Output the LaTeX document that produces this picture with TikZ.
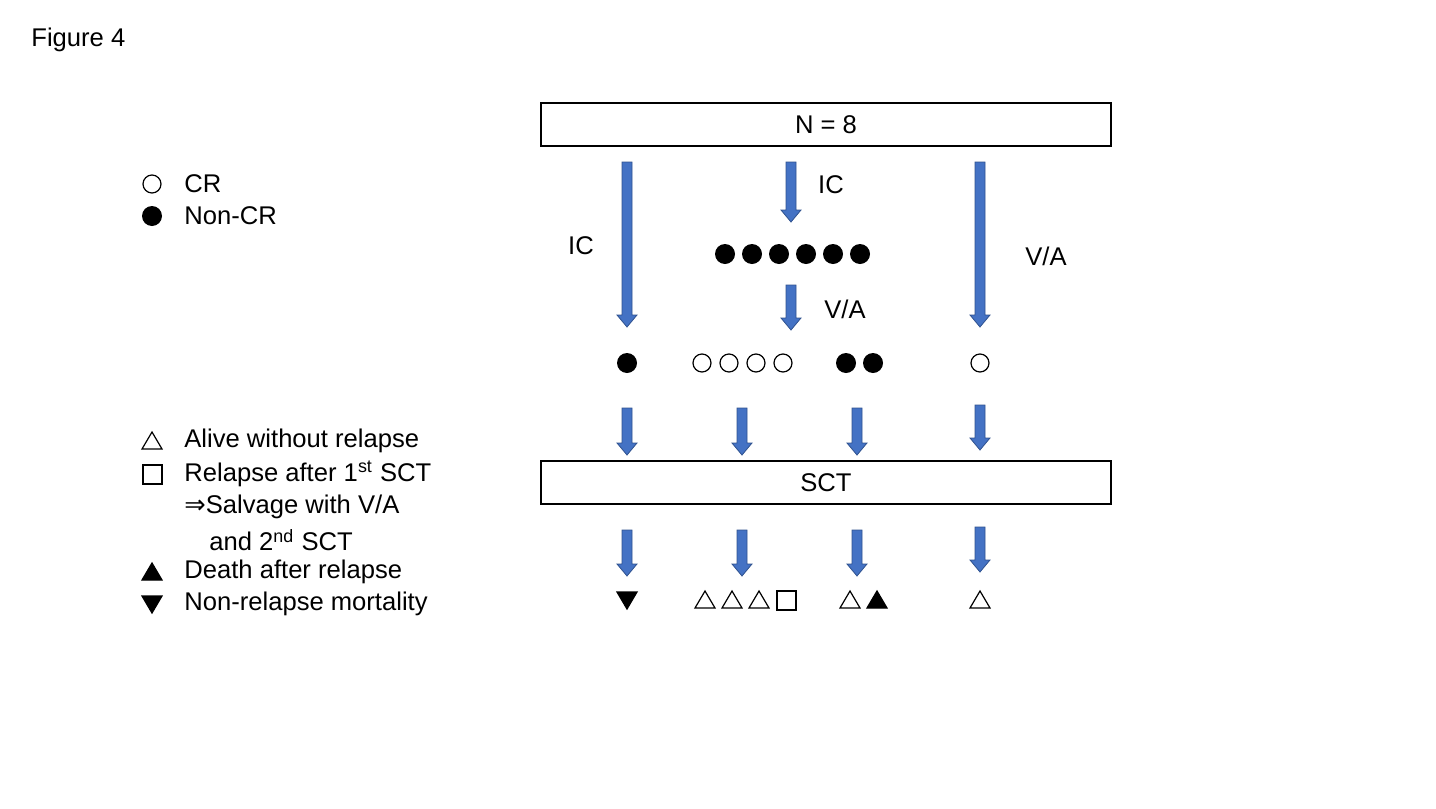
\documentclass[tikz,border=0pt]{standalone}
\usepackage{fontspec}
\setmainfont{Liberation Sans}
\newfontfamily\symbolfont{DejaVu Sans}
\usetikzlibrary{positioning}
\definecolor{arrowblue}{HTML}{4472C4}
\definecolor{arrowedge}{HTML}{2F528F}
\tikzset{every picture/.style={font issue=\fontsize{12.8}{14}\selectfont},
         font issue/.style={execute at begin picture={#1\selectfont}},
         stagebox/.style={draw, line width=0.6pt, minimum width=285pt, minimum height=21.5pt, inner sep=0pt},
         blockarrow/.style={fill=arrowblue, draw=arrowedge, line width=0.4pt},
         fulldot/.style={circle, fill=black, minimum size=10pt, inner sep=0pt},
         opendot/.style={circle, draw, line width=0.6pt, minimum size=9pt, inner sep=0pt},
         legendtext/.style={anchor=west, inner sep=0pt}
        }
% block arrow: x, top y, bottom y (pixel units)
\newcommand{\blockarr}[3]{%
  \draw[blockarrow] (#1-5,#2) -- (#1+5,#2) -- (#1+5,#3-12) -- (#1+10,#3-12) -- (#1,#3)
    -- (#1-10,#3-12) -- (#1-5,#3-12) -- cycle;}
\newcommand{\uptri}[2]{\draw[line width=0.6pt,#2] (#1) ++(0,-9) -- ++(10,17) -- ++(-20,0) -- cycle;}
\newcommand{\downtri}[2]{\draw[line width=0.6pt,#2] (#1) ++(0,9) -- ++(10,-17) -- ++(-20,0) -- cycle;}

\begin{document}
\begin{tikzpicture}[x=0.5pt, y=-0.5pt]
\useasboundingbox (0,0) rectangle (1436,809);
\node[legendtext] (figlabel) at (31,40) {Figure 4};

% stages
\node[stagebox] (total) at (826,124.5) {N = 8};
\node[stagebox] (sct) at (826,482.5) {SCT};

% first line of treatment
\blockarr{627}{162}{327}
\blockarr{791}{162}{222}
\blockarr{791}{285}{330}
\blockarr{980}{162}{327}
\node (icleft) at (581,246) {IC};
\node (icmid) at (831,185) {IC};
\node (vamid) at (845,309) {V/A};
\node (varight) at (1046,256) {V/A};

\foreach \x [count=\i] in {725,752,779,806,833,860}
  \node[fulldot] (noncr\i) at (\x,254) {};

% response after induction
\node[fulldot] (respa) at (627,363) {};
\foreach \x [count=\i] in {702,729,756,783}
  \node[opendot] (respb\i) at (\x,363) {};
\node[fulldot] (respc1) at (846,363) {};
\node[fulldot] (respc2) at (873,363) {};
\node[opendot] (respd) at (980,363) {};

% into and out of SCT
\foreach \x in {627,742,857}{
  \blockarr{\x}{408}{455}
  \blockarr{\x}{530}{576}
}
\blockarr{980}{405}{450}
\blockarr{980}{527}{572}

% outcome
\coordinate (outa) at (627,600);
\downtri{outa}{fill=black}
\foreach \x in {705,732,759,850,980}{
  \coordinate (outb) at (\x,600);
  \uptri{outb}{}
}
\draw[line width=0.6pt] (777,591) rectangle (796,610);
\coordinate (outc) at (877,600);
\uptri{outc}{fill=black}

% legend
\node[opendot] (legcr) at (152,184) {};
\node[legendtext] at (184,184) {CR};
\node[fulldot] (legnoncr) at (152,216) {};
\node[legendtext] at (184,216) {Non-CR};
\coordinate (legalive) at (152,441);
\uptri{legalive}{}
\node[legendtext] at (184,441) {Alive without relapse};
\draw[line width=0.6pt] (143,465) rectangle (162,484);
\node[legendtext] at (184,474) {Relapse after 1\textsuperscript{st} SCT};
\node[legendtext] at (184,507) {{\symbolfont ⇒}Salvage with V/A};
\node[legendtext] at (209,540) {and 2\textsuperscript{nd} SCT};
\coordinate (legdeath) at (152,572);
\uptri{legdeath}{fill=black}
\node[legendtext] at (184,572) {Death after relapse};
\coordinate (legnrm) at (152,604);
\downtri{legnrm}{fill=black}
\node[legendtext] at (184,604) {Non-relapse mortality};
\end{tikzpicture}
\end{document}
